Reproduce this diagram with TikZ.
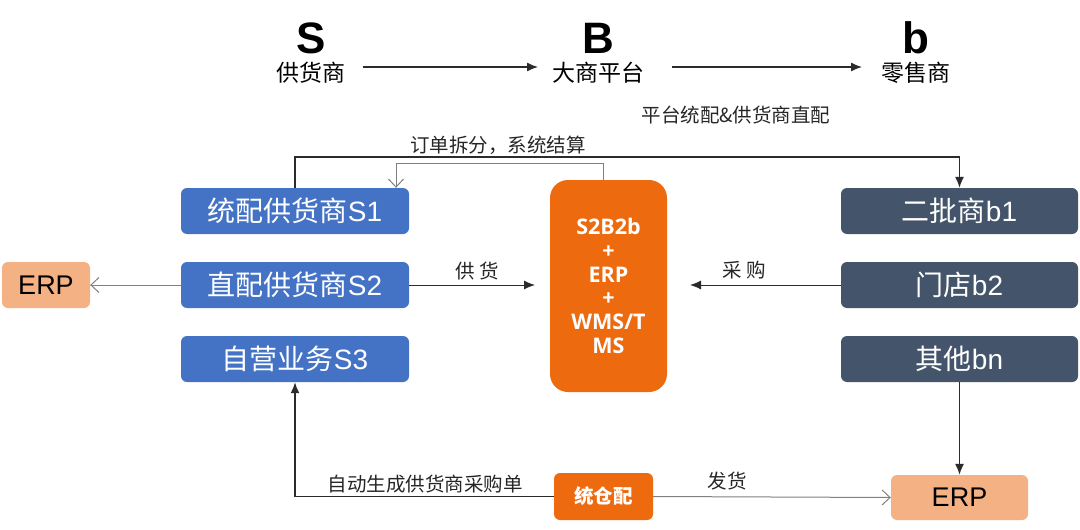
\documentclass[tikz,border=0pt]{standalone}
\usepackage{fontspec}
\setmainfont{Liberation Sans}
\newfontfamily\cjk{Noto Sans CJK SC}
\newfontfamily\osans{Open Sans}
\usetikzlibrary{arrows.meta}
\definecolor{sblue}{HTML}{4472C4}
\definecolor{bslate}{HTML}{44546A}
\definecolor{plorange}{HTML}{EE6A0E}
\definecolor{erporange}{HTML}{F4B183}
\definecolor{darkline}{HTML}{2B2B2B}
\definecolor{grayline}{HTML}{808080}
\tikzset{
  box/.style={rounded corners=6pt, minimum width=228pt, minimum height=46pt, inner sep=0pt, text=white, font=\fontsize{28}{32}\selectfont},
  sbox/.style={box, fill=sblue},
  bbox/.style={box, fill=bslate, minimum width=237pt},
  erpbox/.style={rounded corners=6pt, fill=erporange, text=black, inner sep=0pt, font=\fontsize{27}{30}\selectfont},
  lbl/.style={inner sep=0pt, font=\cjk\fontsize{19.5}{22}\selectfont, text=black!85},
  head/.style={inner sep=0pt, font=\bfseries\fontsize{44}{48}\selectfont},
  sub/.style={inner sep=0pt, font=\cjk\fontsize{23}{26}\selectfont},
  dline/.style={draw=darkline, line width=1.3pt},
  gline/.style={draw=grayline, line width=1pt},
  fillarrow/.style={-{Latex[length=11pt,width=9pt]}},
  openarrow/.style={-{Straight Barb[length=8pt,width=15pt]}},
}
\begin{document}
\begin{tikzpicture}[x=1pt,y=-1pt]
\useasboundingbox (0,0) rectangle (1080,530);
% top header
\node[head] (hS) at (311,38) {S};
\node[sub] (tS) at (311,73) {供货商};
\node[head] (hB) at (598,38) {B};
\node[sub] (tB) at (598,73) {大商平台};
\node[head] (hb) at (916,38) {b};
\node[sub] (tb) at (916,73) {零售商};
\draw[dline, fillarrow] (tS.east) ++(17,-6) coordinate (a1) -- (a1 -| 538,0) coordinate (a1e);
\draw[dline, fillarrow] (tB.east) ++(28,-6) coordinate (a2) -- (a2 -| 862,0) coordinate (a2e);
\node[lbl] (pt) at (736,115) {平台统配\&供货商直配};
\node[lbl] (dd) at (498,145) {订单拆分，系统结算};
% left boxes
\node[sbox] (s1) at (295,211) {{\cjk 统配供货商}S1};
\node[sbox] (s2) at (295,285) {{\cjk 直配供货商}S2};
\node[sbox] (s3) at (295,359) {{\cjk 自营业务}S3};
\node[erpbox, minimum width=88pt, minimum height=46pt] (erp1) at (46,285) {ERP};
% platform
\node[rounded corners=18pt, fill=plorange, minimum width=117pt, minimum height=212pt, inner sep=0pt,
      text=white, align=center, font=\osans\bfseries\fontsize{21.5}{23.8}\selectfont] (plat) at (608.5,286)
      {S2B2b\\+\\ERP\\+\\WMS/T\\MS};
% right boxes
\node[bbox] (b1) at (959.5,211) {{\cjk 二批商}b1};
\node[bbox] (b2) at (959.5,285) {{\cjk 门店}b2};
\node[bbox] (bn) at (959.5,359) {{\cjk 其他}bn};
% bottom
\node[rounded corners=6pt, fill=plorange, minimum width=99pt, minimum height=47pt, inner sep=0pt,
      text=white, font=\cjk\bfseries\fontsize{19.5}{22}\selectfont] (cang) at (603.5,496.5) {统仓配};
\node[erpbox, minimum width=137pt, minimum height=45pt] (erp2) at (959.5,497.5) {ERP};
% connectors
\draw[dline, fillarrow] (s1.north) -- (s1.north |- 0,157) -| (b1.north);
\draw[gline, openarrow] ([xshift=-5.5pt]plat.north) -- ([xshift=-5.5pt]plat.north |- 0,163) -| ([xshift=101pt]s1.north);
\draw[gline, openarrow] (s2.west) -- (erp1.east);
\draw[dline, line width=1pt, fillarrow] (s2.east) -- (535,285) coordinate (s2e);
\node[lbl] (gh) at (477,271) {供\hspace{5pt}货};
\draw[dline, line width=1pt, fillarrow] (b2.west) -- (690,285) coordinate (b2e);
\node[lbl] (cg) at (744,270) {采\hspace{5pt}购};
\draw[dline, fillarrow] (bn.south) -- (erp2.north);
\draw[dline, line width=1.6pt, fillarrow] (cang.west) -| (s3.south);
\node[lbl] (zd) at (425,484) {自动生成供货商采购单};
\draw[gline, openarrow] (cang.east) -- (erp2.west);
\node[lbl] (fh) at (727,481) {发货};
\end{tikzpicture}
\end{document}
